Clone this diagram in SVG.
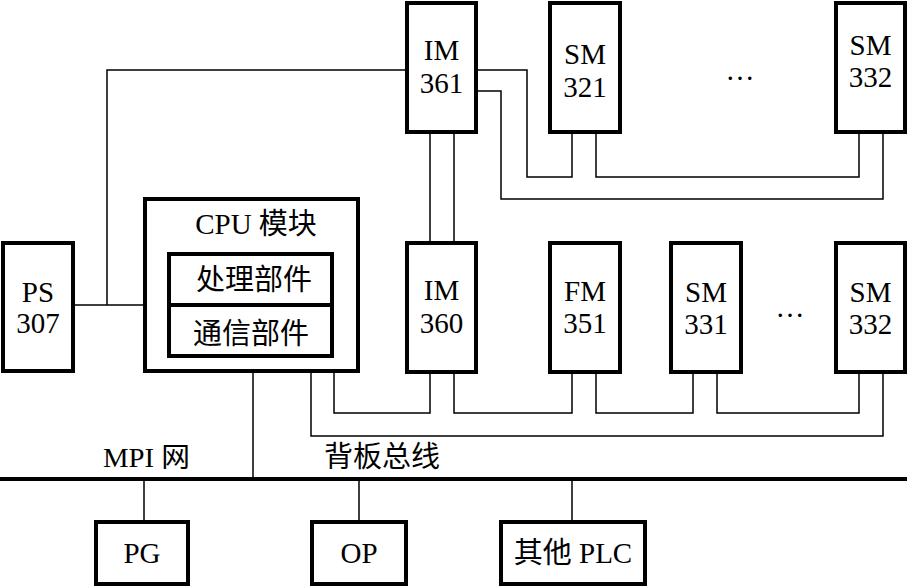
<svg xmlns="http://www.w3.org/2000/svg" width="910" height="588" viewBox="0 0 910 588">
<style>
.box{fill:#fff;stroke:#000;stroke-width:4}
.ln{fill:none;stroke:#000;stroke-width:1.5}
.bus{fill:none;stroke:#000;stroke-width:4}
text{font-family:"Liberation Serif","Noto Sans CJK SC",serif;font-size:29px;fill:#000;text-anchor:middle}
.cjk{font-family:"Liberation Serif","Noto Sans CJK SC",sans-serif;font-size:29px}
</style>
<rect width="910" height="588" fill="#fff"/>
<g id="connectors">
<path class="ln" d="M75,305 H143 M107,305 V70 H405"/>
<path class="ln" d="M430,134 V241 M454,134 V241"/>
<path class="ln" d="M478,70 H527 V177 H572 V134"/>
<path class="ln" d="M478,91 H501 V199 H883 V134"/>
<path class="ln" d="M596,134 V177 H859 V134"/>
<path class="ln" d="M334,373 V413 H430 V374"/>
<path class="ln" d="M454,374 V413 H572 V374"/>
<path class="ln" d="M596,374 V413 H693 V374"/>
<path class="ln" d="M717,374 V413 H859 V374"/>
<path class="ln" d="M311,373 V436 H883 V374"/>
<path class="ln" d="M253,357 V479"/>
<path class="bus" d="M0,479 H907"/>
<path class="ln" d="M144,479 V520 M359,479 V520 M572,479 V520"/>
</g>
<g id="im361"><rect class="box" x="407" y="3" width="69" height="129"/><text x="441.5" y="60">IM</text><text x="441.5" y="93">361</text></g>
<g id="sm321"><rect class="box" x="550" y="3" width="70" height="129"/><text x="585" y="64">SM</text><text x="585" y="97">321</text></g>
<text x="740" y="80">…</text>
<g id="sm332a"><rect class="box" x="836" y="3" width="69" height="129"/><text x="870.5" y="55">SM</text><text x="870.5" y="87">332</text></g>
<g id="ps307"><rect class="box" x="3" y="243" width="70" height="128"/><text x="38" y="302">PS</text><text x="38" y="333">307</text></g>
<g id="cpu">
<rect class="box" x="145" y="199" width="213" height="172"/>
<text x="256" y="234"><tspan>CPU </tspan><tspan class="cjk">模块</tspan></text>
<rect class="box" x="169" y="254" width="163" height="102"/>
<path class="bus" d="M169,305 H332"/>
<text class="cjk" x="254" y="290">处理部件</text>
<text class="cjk" x="251" y="344">通信部件</text>
</g>
<g id="im360"><rect class="box" x="407" y="243" width="69" height="129"/><text x="441.5" y="300">IM</text><text x="441.5" y="333">360</text></g>
<g id="fm351"><rect class="box" x="550" y="243" width="70" height="129"/><text x="585" y="301">FM</text><text x="585" y="333">351</text></g>
<g id="sm331"><rect class="box" x="671" y="243" width="70" height="129"/><text x="706" y="302">SM</text><text x="706" y="334">331</text></g>
<text x="790" y="317">…</text>
<g id="sm332b"><rect class="box" x="836" y="243" width="69" height="129"/><text x="870.5" y="302">SM</text><text x="870.5" y="334">332</text></g>
<text x="103" y="467" style="text-anchor:start;font-size:27px" textLength="87" lengthAdjust="spacingAndGlyphs"><tspan>MPI </tspan><tspan class="cjk" style="font-size:27px">网</tspan></text>
<text class="cjk" x="382" y="467">背板总线</text>
<g id="pg"><rect class="box" x="96" y="522" width="92" height="62"/><text x="142" y="563">PG</text></g>
<g id="op"><rect class="box" x="312" y="522" width="94" height="62"/><text x="359" y="563">OP</text></g>
<g id="plc"><rect class="box" x="501" y="522" width="144" height="62"/><text x="573" y="563"><tspan class="cjk">其他</tspan><tspan> PLC</tspan></text></g>
</svg>
